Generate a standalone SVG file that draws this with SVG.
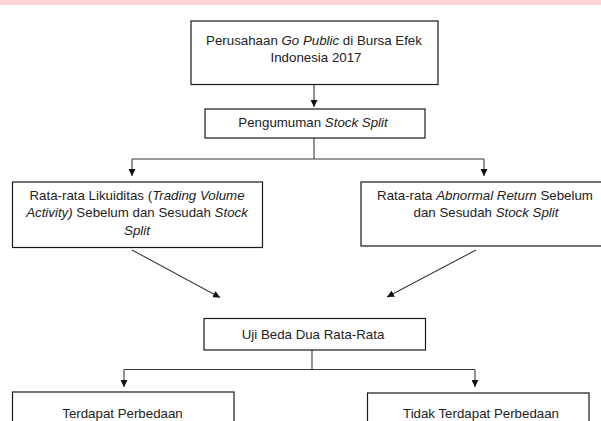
<svg xmlns="http://www.w3.org/2000/svg" width="601" height="421" viewBox="0 0 601 421">
<style>
.box{fill:#fff;stroke:#1a1a1a;stroke-width:1.2}
.t{font-family:"Liberation Sans",Arial,sans-serif;font-size:13.3px;fill:#222;text-anchor:middle}
.i{font-style:italic}
.c{stroke:#3a3a3a;stroke-width:1.1;fill:none}
</style>
<defs>
<marker id="ah" viewBox="0 0 10 10" refX="10" refY="5" markerWidth="7" markerHeight="7" markerUnits="userSpaceOnUse" orient="auto">
<path d="M0,0 L10,5 L0,10 Z" fill="#111"/>
</marker>
</defs>
<rect x="0" y="0" width="601" height="421" fill="#fff"/>
<rect x="0" y="0" width="601" height="5" fill="#ffd6d6"/>
<g id="connectors">
<line class="c" x1="314" y1="84.5" x2="314" y2="107" marker-end="url(#ah)"/>
<line class="c" x1="314" y1="138" x2="314" y2="159"/>
<line class="c" x1="132" y1="159" x2="484" y2="159"/>
<line class="c" x1="132" y1="159" x2="132" y2="176" marker-end="url(#ah)"/>
<line class="c" x1="484" y1="159" x2="484" y2="176" marker-end="url(#ah)"/>
<line class="c" x1="132" y1="250" x2="220" y2="297.5" marker-end="url(#ah)"/>
<line class="c" x1="476" y1="250" x2="387" y2="297" marker-end="url(#ah)"/>
<line class="c" x1="312" y1="350" x2="312" y2="369.5"/>
<line class="c" x1="124" y1="369.5" x2="475" y2="369.5"/>
<line class="c" x1="124" y1="369.5" x2="124" y2="387" marker-end="url(#ah)"/>
<line class="c" x1="475" y1="369.5" x2="475" y2="387" marker-end="url(#ah)"/>
</g>
<g id="node-perusahaan">
<rect class="box" x="191" y="21" width="247" height="63.5"/>
<text class="t" x="314" y="45">Perusahaan <tspan class="i">Go Public</tspan> di Bursa Efek</text>
<text class="t" x="316" y="62">Indonesia 2017</text>
</g>
<g id="node-pengumuman">
<rect class="box" x="205" y="109" width="220" height="29"/>
<text class="t" x="313" y="127">Pengumuman <tspan class="i">Stock Split</tspan></text>
</g>
<g id="node-likuiditas">
<rect class="box" x="12.5" y="182" width="250" height="65.5"/>
<text class="t" x="137" y="200">Rata-rata Likuiditas (<tspan class="i">Trading Volume</tspan></text>
<text class="t" x="137" y="217"><tspan class="i">Activity)</tspan> Sebelum dan Sesudah <tspan class="i">Stock</tspan></text>
<text class="t i" x="137" y="235">Split</text>
</g>
<g id="node-abnormal">
<rect class="box" x="361" y="182" width="249" height="64"/>
<text class="t" x="485" y="199.5">Rata-rata <tspan class="i">Abnormal Return</tspan> Sebelum</text>
<text class="t" x="486" y="216.5">dan Sesudah <tspan class="i">Stock Split</tspan></text>
</g>
<g id="node-uji">
<rect class="box" x="204" y="318.5" width="221.5" height="31.5"/>
<text class="t" x="313" y="338.5">Uji Beda Dua Rata-Rata</text>
</g>
<g id="node-terdapat">
<rect class="box" x="12.5" y="392" width="221.5" height="40"/>
<text class="t" x="122.5" y="418">Terdapat Perbedaan</text>
</g>
<g id="node-tidak">
<rect class="box" x="367.5" y="393" width="221.5" height="40"/>
<text class="t" x="481" y="418">Tidak Terdapat Perbedaan</text>
</g>
</svg>
